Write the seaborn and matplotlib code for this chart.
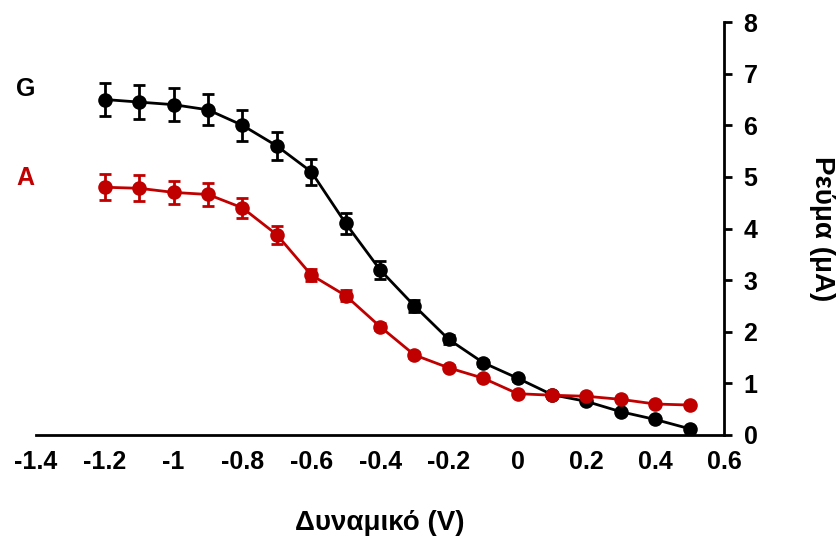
import numpy as np
import pandas as pd
import matplotlib
matplotlib.use("Agg")
import matplotlib.pyplot as plt
import seaborn as sns

# ---------- dados ----------
dynamiko = [-1.2, -1.1, -1.0, -0.9, -0.8, -0.7, -0.6, -0.5, -0.4, -0.3,
            -0.2, -0.1, 0.0, 0.1, 0.2, 0.3, 0.4, 0.5]
reuma_G = [6.5, 6.45, 6.4, 6.3, 6.0, 5.6, 5.1, 4.1, 3.2, 2.5,
           1.85, 1.4, 1.1, 0.78, 0.65, 0.45, 0.3, 0.12]
err_G = [0.32, 0.33, 0.32, 0.3, 0.3, 0.27, 0.25, 0.2, 0.17, 0.12,
         0.08, 0.06, 0.05, 0.04, 0.04, 0.03, 0.03, 0.03]
reuma_A = [4.8, 4.78, 4.7, 4.66, 4.4, 3.88, 3.1, 2.7, 2.1, 1.55,
           1.3, 1.1, 0.8, 0.77, 0.75, 0.69, 0.6, 0.58]
err_A = [0.25, 0.25, 0.22, 0.22, 0.2, 0.17, 0.12, 0.1, 0.07, 0.05,
         0.05, 0.04, 0.04, 0.03, 0.03, 0.03, 0.03, 0.03]

xticks = [-1.4, -1.2, -1.0, -0.8, -0.6, -0.4, -0.2, 0.0, 0.2, 0.4, 0.6]
xtick_labels = ['-1.4', '-1.2', '-1', '-0.8', '-0.6', '-0.4', '-0.2',
                '0', '0.2', '0.4', '0.6']
yticks = [0, 1, 2, 3, 4, 5, 6, 7, 8]

colores = {'G': 'black', 'A': '#C00000'}

df = pd.DataFrame({
    'V': dynamiko * 2,
    'I': reuma_G + reuma_A,
    'err': err_G + err_A,
    'serie': ['G'] * len(dynamiko) + ['A'] * len(dynamiko),
})

# ---------- estilo ----------
sns.set_style("white")
plt.rcParams['font.family'] = ['Liberation Sans', 'DejaVu Sans']
plt.rcParams['font.weight'] = 'bold'
plt.rcParams['text.color'] = 'black'
plt.rcParams['axes.labelcolor'] = 'black'
plt.rcParams['xtick.color'] = 'black'
plt.rcParams['ytick.color'] = 'black'

fig = plt.figure(figsize=(8.39, 5.39), dpi=100)
ax = fig.add_axes([0.043, 0.193, 0.820, 0.766])

sns.lineplot(data=df, x='V', y='I', hue='serie', palette=colores,
             marker='o', markersize=10.5, markeredgewidth=0, linewidth=2,
             legend=False, ax=ax, zorder=3)

for nome, sub in df.groupby('serie'):
    ax.errorbar(sub['V'], sub['I'], yerr=sub['err'], fmt='none',
                ecolor=colores[nome], elinewidth=2, capsize=4.5,
                capthick=2, zorder=2)

ax.set_xlim(-1.4, 0.6)
ax.set_ylim(0, 8)
ax.set_xticks(xticks)
ax.set_xticklabels(xtick_labels)
ax.set_yticks(yticks)

ax.yaxis.tick_right()
ax.yaxis.set_label_position('right')
for lado in ['left', 'top']:
    ax.spines[lado].set_visible(False)
for lado in ['right', 'bottom']:
    ax.spines[lado].set_linewidth(2)
    ax.spines[lado].set_color('black')

ax.tick_params(axis='both', direction='out', length=6, width=2,
               labelsize=18, color='black', labelcolor='black')
ax.tick_params(axis='x', pad=5)
ax.tick_params(axis='y', pad=8)
for lab in ax.get_xticklabels() + ax.get_yticklabels():
    lab.set_fontweight('bold')

ax.set_xlabel('Δυναμικό (V)', fontsize=20, fontweight='bold', labelpad=26)
ax.set_ylabel('Ρεύμα (μA)', fontsize=20, fontweight='bold',
              rotation=270, labelpad=56)

ax.text(-0.015, 0.838, 'G', transform=ax.transAxes, fontsize=18,
        fontweight='bold', color=colores['G'], ha='center', va='center')
ax.text(-0.015, 0.622, 'A', transform=ax.transAxes, fontsize=18,
        fontweight='bold', color=colores['A'], ha='center', va='center')

fig.savefig('out.png', dpi=100)
plt.close(fig)
